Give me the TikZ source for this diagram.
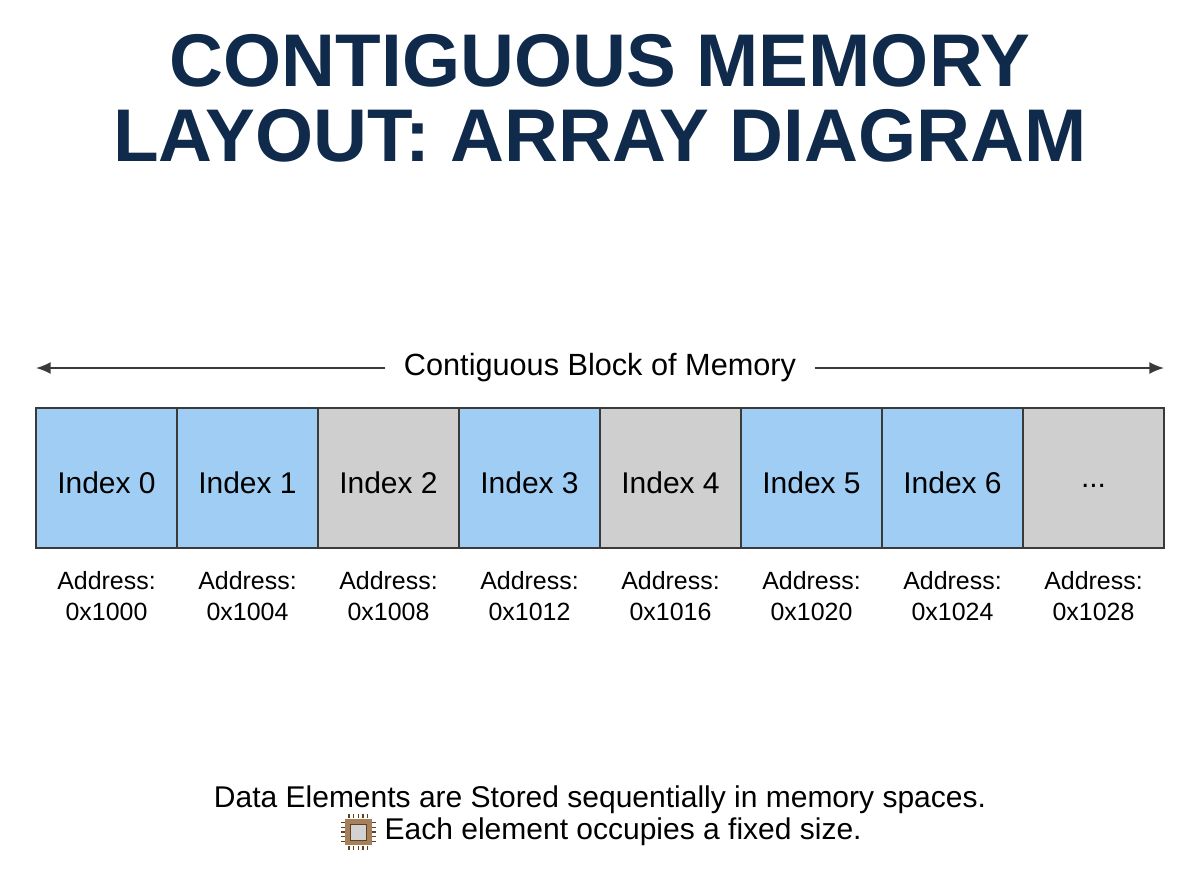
\documentclass[tikz,border=0pt]{standalone}
\usepackage{fontspec}
\setmainfont{Liberation Sans}
\usetikzlibrary{positioning,arrows.meta}
\definecolor{navy}{HTML}{0F2A4A}
\definecolor{cellblue}{HTML}{9FCDF3}
\definecolor{cellgray}{HTML}{CFCFCF}
\definecolor{edge}{HTML}{3A3A3A}
\newcommand{\celldots}{...}
\tikzset{
  cell/.style={draw=edge,line width=1.2pt,minimum width=105.75pt,minimum height=105pt,inner sep=0pt,font=\fontsize{22.5}{26}\selectfont,text depth=0pt},
  addr/.style={align=center,font=\fontsize{18.7}{23}\selectfont},
  title/.style={font=\fontsize{56}{56}\selectfont\bfseries,text=navy,align=center},
  span/.style={-{Latex[length=11pt,width=9pt]},edge,line width=1.3pt}
}
\begin{document}
\begin{tikzpicture}[x=0.75pt,y=-0.75pt]
\useasboundingbox (0,0) rectangle (1200,896);
\node[title] (head) at (600,98) {CONTIGUOUS MEMORY\\LAYOUT: ARRAY DIAGRAM};

% block label and arrows
\node[font=\fontsize{23}{26}\selectfont] (blk) at (600,368) {Contiguous Block of Memory};
\coordinate (lend) at (36,368);
\coordinate (rend) at (1164,368);
\draw[span] (blk.west) ++(-14,0) -- (lend);
\draw[span] (blk.east) ++(14,0) -- (rend);

% cells
\foreach \i/\c/\t/\a in {0/cellblue/Index 0/0x1000,1/cellblue/Index 1/0x1004,2/cellgray/Index 2/0x1008,3/cellblue/Index 3/0x1012,4/cellgray/Index 4/0x1016,5/cellblue/Index 5/0x1020,6/cellblue/Index 6/0x1024,7/cellgray/\celldots/0x1028}{
  \node[cell,fill=\c] (c\i) at (106.5+141*\i,478) {\raisebox{-7pt}{\t}};
  \node[addr] (a\i) at (106.5+141*\i,596) {Address:\\\a};
}

% footer
\node[font=\fontsize{22.5}{26}\selectfont] (note1) at (600,800) {Data Elements are Stored sequentially in memory spaces.};
\node[font=\fontsize{22.5}{26}\selectfont,anchor=west] (note2) at (380,832) {Each element occupies a fixed size.};
\node[fill=brown!60!gray,minimum size=20pt,inner sep=0pt,left=6pt of note2] (chip) {};
\node[fill=gray!35,draw=brown!50!black,minimum size=12pt,inner sep=0pt] at (chip) {};
\foreach \k in {-1,-0.5,0,0.5,1}{
  \draw[brown!50!black,line width=1pt] ([xshift=\k*7pt]chip.north) -- ++(0,3pt);
  \draw[brown!50!black,line width=1pt] ([xshift=\k*7pt]chip.south) -- ++(0,-3pt);
  \draw[brown!50!black,line width=1pt] ([yshift=\k*7pt]chip.west) -- ++(-3pt,0);
  \draw[brown!50!black,line width=1pt] ([yshift=\k*7pt]chip.east) -- ++(3pt,0);
}
\end{tikzpicture}
\end{document}
